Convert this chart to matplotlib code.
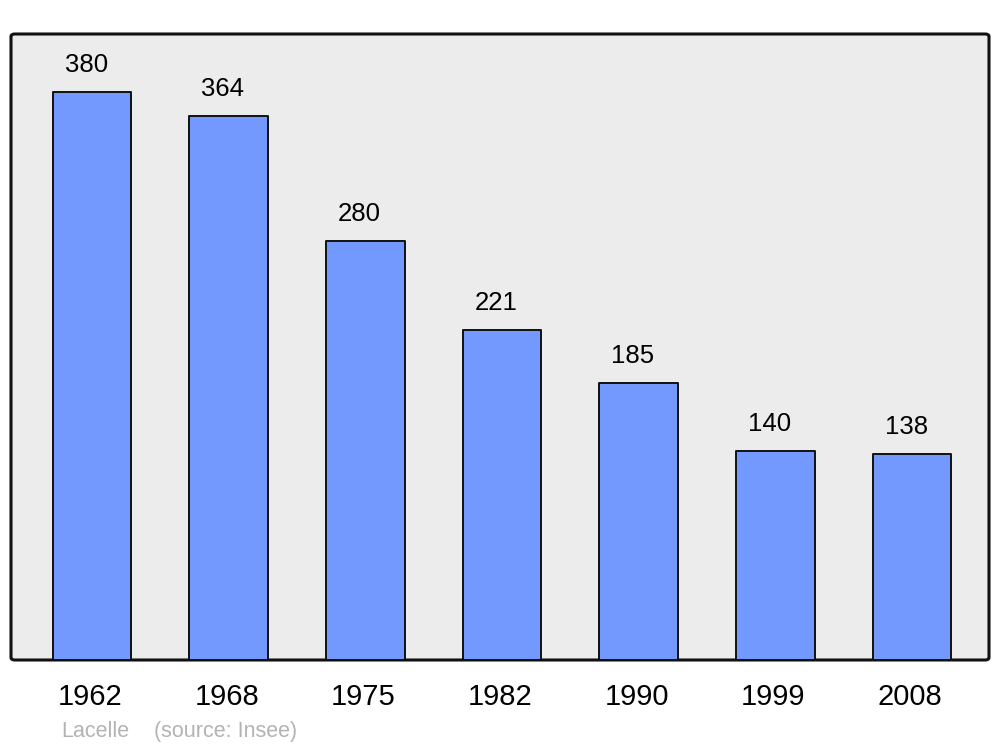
"""Population bar chart for Lacelle (source: Insee)."""

import matplotlib

matplotlib.use("Agg")
import matplotlib.pyplot as plt
import matplotlib.transforms as mtransforms
from matplotlib.patches import FancyBboxPatch

years = ["1962", "1968", "1975", "1982", "1990", "1999", "2008"]
population = [380, 364, 280, 221, 185, 140, 138]

plt.rcParams["font.family"] = ["Liberation Sans", "DejaVu Sans"]

fig = plt.figure(figsize=(10, 7.47), dpi=100)
ax = fig.add_axes([0.011, 1 - 660 / 747, 0.978, 626 / 747])
ax.set_facecolor("none")

# rounded grey frame behind the bars
frame = FancyBboxPatch(
    (0, 0), 1, 1,
    boxstyle="round,pad=0,rounding_size=0.004",
    transform=ax.transAxes,
    facecolor="#ececec",
    edgecolor="#111111",
    linewidth=2.2,
    zorder=0,
    clip_on=False,
)
ax.add_patch(frame)

positions = range(len(years))
bars = ax.bar(
    positions,
    population,
    width=0.575,
    color="#7399ff",
    edgecolor="#111111",
    linewidth=1.4,
    zorder=2,
)
for bar in bars:
    bar.set_joinstyle("round")

for x, value in zip(positions, population):
    ax.annotate(
        str(value),
        xy=(x, value),
        xytext=(-4.3, 19.5),
        textcoords="offset points",
        ha="center",
        va="center",
        fontsize=18.5,
        color="black",
    )

ax.set_xlim(-0.593, 6.563)
ax.set_ylim(0, 418.8)
ax.set_xticks(list(positions), years, fontsize=21)
ax.tick_params(axis="x", length=0, pad=16.5)
shift = mtransforms.ScaledTranslation(-2 / 100, 0, fig.dpi_scale_trans)
for label in ax.get_xticklabels():
    label.set_transform(label.get_transform() + shift)
ax.set_yticks([])
for spine in ax.spines.values():
    spine.set_visible(False)

fig.text(61 / 1000, 1 - 737 / 747, "Lacelle", fontsize=15.5, color="#b3b3b3",
         ha="left", va="baseline")
fig.text(154 / 1000, 1 - 737 / 747, "(source: Insee)", fontsize=15.5,
         color="#b3b3b3", ha="left", va="baseline")

fig.savefig("out.png", dpi=100)
